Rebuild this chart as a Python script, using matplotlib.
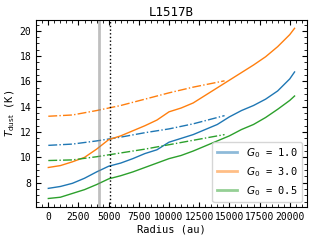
import matplotlib
matplotlib.use("Agg")
import matplotlib.pyplot as plt
from matplotlib.ticker import AutoMinorLocator
from matplotlib.lines import Line2D
import numpy as np

plt.rcParams['font.family'] = 'monospace'
plt.rcParams['font.monospace'] = ['DejaVu Sans Mono']
plt.rcParams['mathtext.fontset'] = 'dejavusans'

# observed profiles (solid)
radius = [0, 1000, 2000, 3000, 4000, 5000, 6000, 7000, 8000, 9000, 10000,
          11000, 12000, 13000, 14000, 15000, 16000, 17000, 18000, 19000, 20000, 20400]
t_g10 = [7.55, 7.7, 7.95, 8.35, 8.85, 9.3, 9.55, 9.9, 10.3, 10.6, 11.2,
         11.5, 11.8, 12.2, 12.6, 13.2, 13.7, 14.1, 14.6, 15.25, 16.2, 16.75]
t_g30 = [9.2, 9.35, 9.65, 10.0, 10.65, 11.4, 11.7, 12.1, 12.5, 12.95, 13.6,
         13.9, 14.3, 14.9, 15.5, 16.1, 16.7, 17.3, 17.95, 18.75, 19.7, 20.2]
t_g05 = [6.75, 6.85, 7.15, 7.45, 7.85, 8.3, 8.55, 8.85, 9.2, 9.55, 9.9,
         10.15, 10.5, 10.9, 11.3, 11.7, 12.2, 12.6, 13.15, 13.8, 14.5, 14.85]

# smooth profiles (dash-dot)
radius_fit = [0, 2000, 4000, 6000, 8000, 10000, 12000, 14600]
fit_g10 = [10.95, 11.05, 11.3, 11.6, 11.95, 12.25, 12.65, 13.3]
fit_g30 = [13.25, 13.35, 13.7, 14.1, 14.6, 15.1, 15.55, 16.05]
fit_g05 = [9.75, 9.8, 10.05, 10.35, 10.65, 11.0, 11.35, 11.8]

r_gray = 4200
r_dot = 5100

labels = ['$G_0$ = 1.0', '$G_0$ = 3.0', '$G_0$ = 0.5']
colors = ['tab:blue', 'tab:orange', 'tab:green']

fig = plt.figure(figsize=(3.2, 2.4), dpi=100)
ax = fig.add_axes([0.1125, 0.1375, 0.8465, 0.78])

for t, f, c in zip([t_g10, t_g30, t_g05], [fit_g10, fit_g30, fit_g05], colors):
    ax.plot(radius, t, color=c, lw=1)
    ax.plot(radius_fit, f, color=c, lw=1, ls='-.')

ax.axvline(r_gray, color='gray', lw=2, alpha=0.5)
ax.axvline(r_dot, color='k', lw=1, ls=':')

handles = [Line2D([], [], color=c, lw=2, alpha=0.5) for c in colors]
ax.legend(handles, labels, loc='lower right', fontsize=7.5)

ax.set_xlabel('Radius (au)', fontsize=7.5, labelpad=2)
ax.set_ylabel(r'$T_{\rm dust}$ (K)', fontsize=7.5, labelpad=2)
ax.set_title('L1517B', fontsize=9, pad=3)

ax.set_xticks([0, 2500, 5000, 7500, 10000, 12500, 15000, 17500, 20000])
ax.set_yticks([8, 10, 12, 14, 16, 18, 20])
ax.xaxis.set_minor_locator(AutoMinorLocator())
ax.yaxis.set_minor_locator(AutoMinorLocator())
ax.tick_params(which='both', direction='in', top=True, right=True, labelsize=7)
ax.tick_params(which='major', length=3.5)
ax.tick_params(which='minor', length=2)

fig.savefig('out.png', dpi=100)
